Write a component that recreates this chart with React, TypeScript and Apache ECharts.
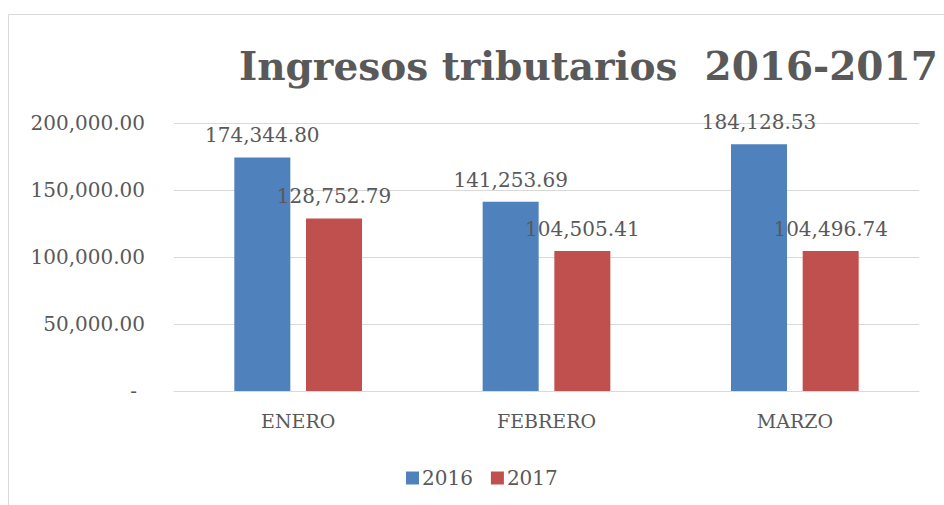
import React, { useEffect, useRef } from "react";
import * as echarts from "echarts";

const categories = ["ENERO", "FEBRERO", "MARZO"];
const seriesNames = ["2016", "2017"];
const values2016 = [174344.8, 141253.69, 184128.53];
const values2017 = [128752.79, 104505.41, 104496.74];
const titleText = "Ingresos tributarios  2016-2017";

const FONT = "'DejaVu Serif', serif";
const TEXT = "#595959";

const fmt = (v: number) =>
  v.toLocaleString("en-US", { minimumFractionDigits: 2, maximumFractionDigits: 2 });

export default function App() {
  const ref = useRef<HTMLDivElement>(null);
  useEffect(() => {
    if (!ref.current) return;
    const chart = echarts.init(ref.current, undefined, { renderer: "svg" });
    const label = {
      show: true,
      position: "top",
      distance: 12,
      color: TEXT,
      fontFamily: FONT,
      fontSize: 20,
      formatter: (p: any) => fmt(p.value),
    };
    chart.setOption({
      animation: false,
      backgroundColor: "#ffffff",
      title: {
        text: titleText,
        left: 234,
        top: 41,
        textStyle: { color: TEXT, fontFamily: FONT, fontWeight: "bold", fontSize: 39 },
      },
      graphic: [
        {
          type: "rect",
          shape: { x: 8.5, y: 14.5, width: 1000, height: 1000 },
          style: { fill: "none", stroke: "#D9D9D9", lineWidth: 1 },
          silent: true,
        },
      ],
      legend: {
        data: seriesNames,
        left: 401,
        top: 463,
        itemWidth: 13,
        itemHeight: 13,
        itemGap: 18,
        icon: "rect",
        textStyle: { color: TEXT, fontFamily: FONT, fontSize: 20, padding: [0, 0, 0, -2] },
      },
      grid: { left: 174, right: 25, top: 123, bottom: 114 },
      xAxis: {
        type: "category",
        data: categories,
        axisLine: { show: true, lineStyle: { color: "#D9D9D9", width: 1 } },
        axisTick: { show: false },
        axisLabel: { color: TEXT, fontFamily: FONT, fontSize: 19, margin: 20 },
      },
      yAxis: {
        type: "value",
        min: 0,
        max: 200000,
        interval: 50000,
        axisLine: { show: false },
        axisTick: { show: false },
        splitLine: { lineStyle: { color: "#D9D9D9", width: 1 } },
        axisLabel: {
          color: TEXT,
          fontFamily: FONT,
          fontSize: 20,
          margin: 29,
          formatter: (v: number) => (v === 0 ? "{d|-}" : fmt(v)),
          rich: {
            d: { color: TEXT, fontFamily: FONT, fontSize: 20, padding: [0, 8, 0, 0] },
          },
        },
      },
      series: [
        {
          name: seriesNames[0],
          type: "bar",
          data: values2016,
          barWidth: 56,
          barGap: "28%",
          itemStyle: { color: "#4F81BD" },
          label,
        },
        {
          name: seriesNames[1],
          type: "bar",
          data: values2017,
          barWidth: 56,
          itemStyle: { color: "#C0504D" },
          label,
        },
      ],
    });
    return () => chart.dispose();
  }, []);
  return (
    <div
      ref={ref}
      style={{ position: "fixed", left: 0, top: 0, width: 944, height: 505 }}
    />
  );
}
